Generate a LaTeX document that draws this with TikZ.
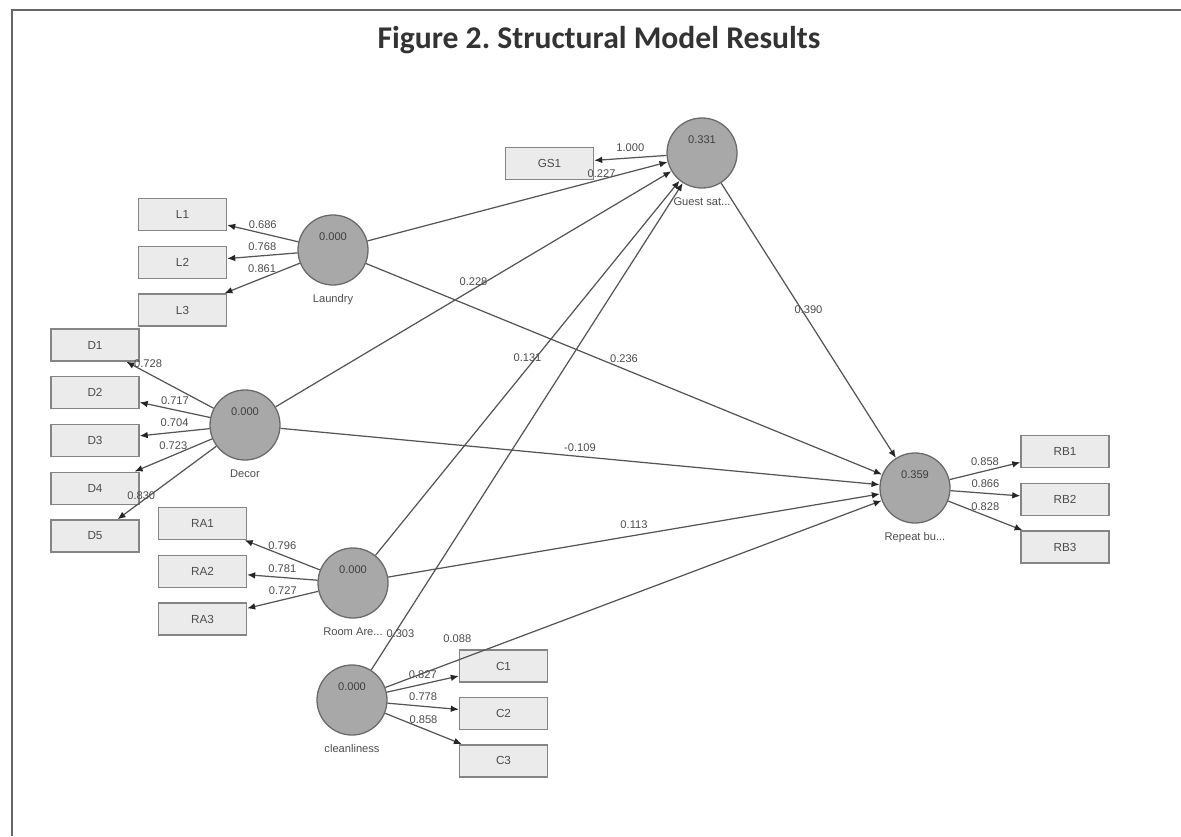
\documentclass[tikz,border=0pt]{standalone}
\usepackage{fontspec}
\setmainfont{Liberation Sans}
\newfontfamily\titlefont{Carlito}
\usetikzlibrary{arrows.meta,positioning}

\definecolor{lvfill}{HTML}{A8A8A8}
\definecolor{lvdraw}{HTML}{6A6A6A}
\definecolor{indfill}{HTML}{EBEBEB}
\definecolor{inddraw}{HTML}{858585}
\definecolor{pathcol}{HTML}{555555}

\begin{document}
\begin{tikzpicture}[
                x=0.03cm, y=-0.03cm,
                font=\fontsize{9.5}{11}\selectfont,
                ind/.style={rectangle, draw=inddraw, line width=1.2pt, fill=indfill, minimum width=2.64cm, minimum height=0.96cm, inner sep=2pt, font=\fontsize{10}{11}\selectfont, text=black!70},
                lv/.style={circle, draw=lvdraw, line width=1.1pt, fill=lvfill, minimum size=2.1cm, inner sep=0pt},
                lvval/.style={yshift=11pt, text=black!75},
                lvname/.style={label distance=4pt, text=black!70},
                arr/.style={-{Latex[length=2.4mm, width=2mm, color=black!85]}, draw=pathcol, line width=1.05pt},
                coef/.style={text=black!70, inner sep=1pt},
            ]
            \useasboundingbox (0,0) rectangle (1181,836);
            \draw[line width=2.5pt, black!60] (12,836) -- (12,10) -- (1181,10);
            \node[font=\titlefont\bfseries\fontsize{27}{32}\selectfont, text=black!80] (title) at (599,40) {Figure 2.\ Structural Model Results};

            % latent variables
            \node[lv, label={[lvval]center:0.331}, label={[lvname]below:Guest sat...}] (guest) at (702,153) {};
            \node[lv, label={[lvval]center:0.000}, label={[lvname]below:Laundry}] (laundry) at (333,250) {};
            \node[lv, label={[lvval]center:0.000}, label={[lvname]below:Decor}] (decor) at (245,425) {};
            \node[lv, label={[lvval]center:0.000}, label={[lvname]below:Room Are...}] (room) at (353,583) {};
            \node[lv, label={[lvval]center:0.000}, label={[lvname]below:cleanliness}] (clean) at (352,700) {};
            \node[lv, label={[lvval]center:0.359}, label={[lvname]below:Repeat bu...}] (repeat) at (915,488) {};

            % indicators
            \node[ind] (gs1) at (549.5,163.5) {GS1};
            \node[ind] (l1) at (182.5,214.5) {L1};
            \node[ind, below=0.43cm of l1] (l2) {L2};
            \node[ind, below=0.43cm of l2] (l3) {L3};
            \node[ind] (d1) at (95,345) {D1};
            \node[ind, below=0.43cm of d1] (d2) {D2};
            \node[ind, below=0.43cm of d2] (d3) {D3};
            \node[ind, below=0.43cm of d3] (d4) {D4};
            \node[ind, below=0.43cm of d4] (d5) {D5};
            \node[ind] (ra1) at (202.5,523.5) {RA1};
            \node[ind, below=0.43cm of ra1] (ra2) {RA2};
            \node[ind, below=0.43cm of ra2] (ra3) {RA3};
            \node[ind] (c1) at (503.5,666) {C1};
            \node[ind, below=0.42cm of c1] (c2) {C2};
            \node[ind, below=0.42cm of c2] (c3) {C3};
            \node[ind] (rb1) at (1065,451.5) {RB1};
            \node[ind, below=0.43cm of rb1] (rb2) {RB2};
            \node[ind, below=0.43cm of rb2] (rb3) {RB3};

            % outer loadings
            \draw[arr] (guest) -- node[coef, above=4pt]{1.000} (gs1);
            \draw[arr] (laundry) -- node[coef, above=3pt]{0.686} (l1);
            \draw[arr] (laundry) -- node[coef, above=3pt]{0.768} (l2);
            \draw[arr] (laundry) -- node[coef, above=3pt]{0.861} (l3);
            \draw[arr] (decor) -- node[coef, pos=.75, above=3pt]{0.728} (d1);
            \draw[arr] (decor) -- node[coef, above=3pt]{0.717} (d2);
            \draw[arr] (decor) -- node[coef, above=3pt]{0.704} (d3);
            \draw[arr] (decor) -- node[coef, above=3pt]{0.723} (d4);
            \draw[arr] (decor) -- node[coef, pos=.76, above=0pt]{0.830} (d5);
            \draw[arr] (room) -- node[coef, above=3pt]{0.796} (ra1);
            \draw[arr] (room) -- node[coef, above=3pt]{0.781} (ra2);
            \draw[arr] (room) -- node[coef, above=3pt]{0.727} (ra3);
            \draw[arr] (clean) -- node[coef, above=3pt]{0.827} (c1);
            \draw[arr] (clean) -- node[coef, above=3pt]{0.778} (c2);
            \draw[arr] (clean) -- node[coef, above=3pt]{0.858} (c3);
            \draw[arr] (repeat) -- node[coef, above=3pt]{0.858} (rb1);
            \draw[arr] (repeat) -- node[coef, above=3pt]{0.866} (rb2);
            \draw[arr] (repeat) -- node[coef, above=3pt]{0.828} (rb3);

            % path coefficients
            \draw[arr] (laundry) -- node[coef, pos=.78, above=0pt]{0.227} (guest);
            \draw[arr] (decor) -- node[coef, above=1pt]{0.228} (guest);
            \draw[arr] (room) -- node[coef, above=4pt]{0.131} (guest);
            \draw[arr] (clean) -- node[coef, pos=.075, xshift=5pt]{0.303} (guest);
            \draw[arr] (guest) -- node[coef, above=4pt]{0.390} (repeat);
            \draw[arr] (laundry) -- node[coef, above=4pt]{0.236} (repeat);
            \draw[arr] (decor) -- node[coef, above=3pt]{-0.109} (repeat);
            \draw[arr] (room) -- node[coef, above=4pt]{0.113} (repeat);
            \draw[arr] (clean) -- node[coef, pos=.145, above=14pt]{0.088} (repeat);
        \end{tikzpicture}
\end{document}
